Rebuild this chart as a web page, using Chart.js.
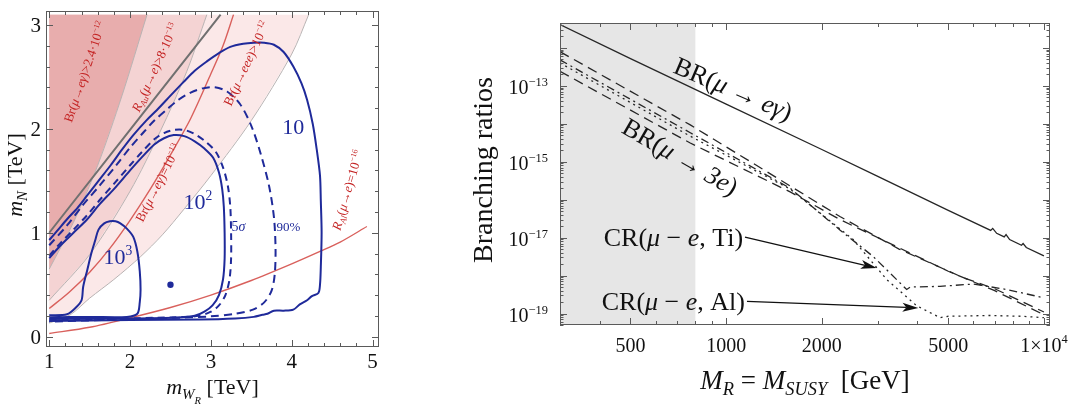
<!DOCTYPE html>
<html>
<head>
<meta charset="utf-8">
<script src="https://cdn.jsdelivr.net/npm/chart.js@4.4.1/dist/chart.umd.min.js"></script>
<style>
  html, body { margin: 0; padding: 0; background: #fff; width: 1084px; height: 407px; overflow: hidden; }
  canvas { position: absolute; top: 0; }
  #left { left: 0; }
  #right { left: 440px; }
</style>
</head>
<body>
<canvas id="left" width="420" height="407"></canvas>
<canvas id="right" width="644" height="407"></canvas>
<script>
// ---------- left panel data: (m_WR, m_N) in TeV ----------
const leftXTicks = [1, 2, 3, 4, 5];
const leftYTicks = [0, 1, 2, 3];

const regionEee = [[1.0,0.13],[1.26,0.21],[1.5,0.37],[1.8,0.55],[2.13,0.77],[2.4,0.98],[2.66,1.22],[3.0,1.55],[3.5,2.08],[4.0,2.72],[4.21,3.1],[1.0,3.1]];
const regionAu = [[1.0,0.35],[1.5,0.79],[2.0,1.4],[2.37,1.97],[2.7,2.55],[2.95,3.1],[1.0,3.1]];
const regionEgamma = [[1.0,0.65],[1.3,1.1],[1.6,1.65],[1.9,2.32],[2.21,3.1],[1.0,3.1]];

const diagLine = [[1.0,1.0],[3.12,3.1]];
const redEgamma = [[1.0,0.27],[1.25,0.43],[1.5,0.62],[1.75,0.85],[2.0,1.12],[2.25,1.42],[2.5,1.75],[2.75,2.1],[3.0,2.53],[3.15,2.8],[3.28,3.1]];
const redAl = [[1.0,0.03],[1.5,0.09],[2.0,0.18],[2.5,0.28],[3.0,0.4],[3.5,0.54],[4.0,0.7],[4.35,0.82],[4.6,0.91],[4.93,1.06]];

const contour10 = [[1.0,0.93],[1.1,1.02],[1.22,1.13],[1.35,1.24],[1.47,1.36],[1.6,1.49],[1.76,1.65],[1.9,1.8],[2.04,1.94],[2.2,2.08],[2.33,2.18],[2.5,2.32],[2.66,2.45],[2.8,2.56],[2.95,2.65],[3.1,2.73],[3.24,2.79],[3.4,2.82],[3.53,2.83],[3.66,2.83],[3.78,2.81],[3.9,2.74],[4.02,2.6],[4.12,2.44],[4.19,2.28],[4.26,2.05],[4.31,1.8],[4.35,1.55],[4.36,1.31],[4.37,1.0],[4.36,0.67],[4.35,0.5],[4.33,0.42],[4.25,0.39],[4.19,0.35],[4.1,0.31],[4.02,0.26],[3.9,0.25],[3.78,0.25],[3.7,0.22],[3.64,0.21],[3.53,0.19],[3.3,0.175],[2.86,0.165],[2.0,0.16],[1.0,0.15]];
const contour90 = [[1.0,0.88],[1.22,1.07],[1.42,1.27],[1.63,1.46],[1.84,1.66],[2.0,1.82],[2.17,1.97],[2.3,2.08],[2.46,2.19],[2.6,2.28],[2.75,2.35],[2.9,2.39],[3.05,2.4],[3.2,2.36],[3.36,2.24],[3.5,2.03],[3.62,1.75],[3.72,1.45],[3.78,1.15],[3.8,0.85],[3.79,0.6],[3.75,0.44],[3.66,0.33],[3.52,0.26],[3.3,0.22],[3.0,0.195],[2.5,0.18],[1.0,0.145]];
const contour100 = [[1.0,0.755],[1.13,0.87],[1.3,1.0],[1.47,1.13],[1.63,1.28],[1.8,1.42],[2.0,1.6],[2.15,1.73],[2.3,1.85],[2.42,1.91],[2.54,1.94],[2.67,1.93],[2.8,1.88],[2.92,1.81],[3.03,1.72],[3.1,1.58],[3.14,1.42],[3.16,1.25],[3.17,1.0],[3.17,0.75],[3.15,0.55],[3.1,0.4],[3.02,0.3],[2.92,0.24],[2.8,0.2],[2.6,0.185],[2.0,0.175],[1.0,0.17]];
const contour5s = [[1.0,0.78],[1.15,0.91],[1.3,1.03],[1.47,1.17],[1.63,1.32],[1.8,1.47],[2.0,1.65],[2.15,1.78],[2.3,1.9],[2.42,1.96],[2.54,1.99],[2.67,1.99],[2.8,1.95],[2.93,1.88],[3.06,1.78],[3.15,1.63],[3.21,1.45],[3.24,1.25],[3.25,1.0],[3.25,0.75],[3.23,0.55],[3.18,0.4],[3.1,0.3],[3.0,0.24],[2.85,0.2],[2.5,0.185],[1.0,0.16]];
const contour1000 = [[1.0,0.205],[1.22,0.215],[1.33,0.28],[1.4,0.35],[1.42,0.48],[1.47,0.64],[1.52,0.8],[1.57,0.93],[1.61,1.03],[1.68,1.09],[1.75,1.11],[1.82,1.11],[1.88,1.09],[1.96,1.04],[2.04,0.96],[2.09,0.82],[2.12,0.63],[2.13,0.45],[2.12,0.33],[2.09,0.22],[1.96,0.19],[1.5,0.19],[1.0,0.185]];
const benchmark = [[2.5,0.5]];

// ---------- right panel data: M_R in GeV vs branching ratio ----------
const rightXTicks = [500, 1000, 2000, 5000, 10000];
const rightYTicks = [1e-13, 1e-15, 1e-17, 1e-19];
const excludedRange = [300, 800];

const brEgamma = [[300,4.1e-12],[500,5.2e-13],[1000,3.3e-14],[2000,2.1e-15],[3000,4.1e-16],[5000,5.2e-17],[6800,1.55e-17],[6900,1.75e-17],[7100,1.3e-17],[7500,1.05e-17],[7600,1.2e-17],[7800,8.9e-18],[8500,6.3e-18],[8600,7.0e-18],[8800,5.5e-18],[10000,3.3e-18]];
const br3eUpper = [[300,7.9e-13],[771,9.3e-15],[1590,2.3e-16],[2280,3.6e-17],[3500,5.0e-18],[5560,8.9e-19],[7000,4.5e-19],[10000,1.1e-19]];
const crTi = [[300,4.8e-13],[771,5.8e-15],[1590,2.0e-16],[2280,1.6e-17],[2900,3.2e-18],[3700,4.3e-19],[3800,5.0e-19],[4710,5.2e-19],[6000,6.0e-19],[7640,4.3e-19],[10000,2.6e-19]];
const crAl = [[300,4.0e-13],[771,4.7e-15],[1590,1.9e-16],[2510,8.9e-18],[3200,7.9e-19],[3980,1.6e-19],[4710,7.8e-20],[5000,8.5e-20],[6760,8.9e-20],[8500,8.5e-20],[10000,7.8e-20]];
const br3eLower = [[300,2.4e-13],[771,3.1e-15],[1590,1.6e-16],[2280,3.0e-17],[5000,1.3e-18],[7000,4.0e-19],[10000,9.3e-20]];

const SERIF = "'Liberation Serif', 'Times New Roman', serif";
const BLUE = '#1f2a9a';
const RED_TXT = '#c42424';

const pts = arr => arr.map(([x, y]) => ({ x, y }));
const sup = t => ({ t, s: 0.62, dy: -0.42 });
const sub = t => ({ t, s: 0.68, dy: 0.22, i: 1 });
const it = t => ({ t, i: 1 });

// text made of runs (italic / sub / sup), centred on x,y unless align says otherwise
function drawRich(ctx, runs, x, y, o) {
  const size = o.size;
  ctx.save();
  ctx.translate(x, y);
  if (o.angle) ctx.rotate(o.angle * Math.PI / 180);
  ctx.fillStyle = o.color || '#111';
  ctx.textAlign = 'left';
  ctx.textBaseline = 'alphabetic';
  const parts = runs.map(r => {
    const s = typeof r === 'string' ? { t: r } : r;
    const font = (s.i ? 'italic ' : '') + (size * (s.s || 1)).toFixed(1) + 'px ' + SERIF;
    ctx.font = font;
    return { t: s.t, font, w: ctx.measureText(s.t).width, dy: (s.dy || 0) * size };
  });
  const total = parts.reduce((a, p) => a + p.w, 0);
  let cx = o.align === 'right' ? -total : o.align === 'left' ? 0 : -total / 2;
  const base = size * 0.33;
  for (const p of parts) {
    ctx.font = p.font;
    ctx.fillText(p.t, cx, base + p.dy);
    cx += p.w;
  }
  ctx.restore();
}

function drawArrow(ctx, x1, y1, x2, y2) {
  const ang = Math.atan2(y2 - y1, x2 - x1);
  const len = 16, hw = 4.5;
  const bx = x2 - len * Math.cos(ang), by = y2 - len * Math.sin(ang);
  ctx.save();
  ctx.strokeStyle = '#111';
  ctx.fillStyle = '#111';
  ctx.lineWidth = 1.2;
  ctx.beginPath();
  ctx.moveTo(x1, y1);
  ctx.lineTo(bx + 4 * Math.cos(ang), by + 4 * Math.sin(ang));
  ctx.stroke();
  ctx.beginPath();
  ctx.moveTo(x2, y2);
  ctx.lineTo(bx - hw * Math.sin(ang), by + hw * Math.cos(ang));
  ctx.lineTo(bx + 4 * Math.cos(ang), by + 4 * Math.sin(ang));
  ctx.lineTo(bx + hw * Math.sin(ang), by - hw * Math.cos(ang));
  ctx.closePath();
  ctx.fill();
  ctx.restore();
}

const baseOptions = {
  responsive: false,
  animation: false,
  events: [],
  plugins: { legend: { display: false }, tooltip: { enabled: false } },
  elements: { point: { radius: 0 } },
};

// ---------------- left panel ----------------
const leftDecor = {
  id: 'leftDecor',
  afterDraw(chart) {
    const { ctx, chartArea: a, scales: { x, y } } = chart;
    ctx.save();
    ctx.strokeStyle = '#5a5a5a';
    ctx.lineWidth = 1;
    ctx.strokeRect(a.left + 0.5, a.top + 0.5, a.width - 1, a.height - 1);
    ctx.beginPath();
    for (let i = 0; i <= 20; i++) {
      const v = 1 + i * 0.2;
      const px = Math.round(x.getPixelForValue(v)) + 0.5;
      const len = i % 5 === 0 ? 7 : 4;
      ctx.moveTo(px, a.bottom); ctx.lineTo(px, a.bottom - len);
      ctx.moveTo(px, a.top); ctx.lineTo(px, a.top + len);
    }
    for (let i = 0; i <= 15; i++) {
      const v = i * 0.2;
      const py = Math.round(y.getPixelForValue(v)) + 0.5;
      const len = i % 5 === 0 ? 7 : 4;
      ctx.moveTo(a.left, py); ctx.lineTo(a.left + len, py);
      ctx.moveTo(a.right, py); ctx.lineTo(a.right - len, py);
    }
    ctx.stroke();
    ctx.restore();

    for (const v of leftXTicks) drawRich(ctx, [String(v)], x.getPixelForValue(v), a.bottom + 14, { size: 21 });
    for (const v of leftYTicks) drawRich(ctx, [String(v)], a.left - 5, y.getPixelForValue(v), { size: 21, align: 'right' });

    drawRich(ctx, [it('m'), { t: 'W', i: 1, s: 0.68, dy: 0.22 }, { t: 'R', i: 1, s: 0.48, dy: 0.42 }, ' [TeV]'],
      (a.left + a.right) / 2, a.bottom + 40, { size: 22 });
    drawRich(ctx, [it('m'), sub('N'), ' [TeV]'], a.left - 31, (a.top + a.bottom) / 2 - 4, { size: 22, angle: -90 });

    const mu = it('μ'), e = it('e');
    const redLabels = [
      { at: [1.44, 2.55], ang: -71, runs: ['Br(', mu, '→', it('eγ'), ')>2.4·10', sup('−12')] },
      { at: [2.31, 2.59], ang: -65.5, runs: [it('R'), sub('Au'), '(', mu, '→', e, ')>8·10', sup('−13')] },
      { at: [3.44, 2.63], ang: -65, runs: ['Br(', mu, '→', it('eee'), ')>10', sup('−12')] },
      { at: [2.35, 1.48], ang: -63, runs: ['Br(', mu, '→', it('eγ'), ')=10', sup('−13')] },
      { at: [4.69, 1.41], ang: -74, runs: [it('R'), sub('Al'), '(', mu, '→', e, ')=10', sup('−16')] },
    ];
    for (const l of redLabels) {
      drawRich(ctx, l.runs, x.getPixelForValue(l.at[0]), y.getPixelForValue(l.at[1]), { size: 13, angle: l.ang, color: RED_TXT });
    }
    const blueLabels = [
      { at: [4.02, 2.02], size: 22, runs: ['10'] },
      { at: [2.84, 1.3], size: 22, runs: ['10', sup('2')] },
      { at: [1.85, 0.77], size: 22, runs: ['10', sup('3')] },
      { at: [3.34, 1.06], size: 14, runs: ['5', it('σ')] },
      { at: [3.96, 1.06], size: 13, runs: ['90%'] },
    ];
    for (const l of blueLabels) {
      drawRich(ctx, l.runs, x.getPixelForValue(l.at[0]), y.getPixelForValue(l.at[1]), { size: l.size, color: BLUE });
    }
  }
};

const region = (data, color) => ({ data: pts(data), showLine: true, borderWidth: 0, fill: 'shape', backgroundColor: color, pointRadius: 0 });
const edge = data => ({ data: pts(data.slice(0, -1)), showLine: true, borderColor: '#b9b3b3', borderWidth: 1, tension: 0.3, pointRadius: 0 });
const curve = (data, color, width, dash) => ({ data: pts(data), showLine: true, borderColor: color, borderWidth: width, borderDash: dash || [], tension: 0.3, pointRadius: 0, fill: false });

new Chart(document.getElementById('left'), {
  type: 'scatter',
  data: {
    datasets: [
      { data: pts(benchmark), pointRadius: 3.2, backgroundColor: BLUE, borderWidth: 0 },
      curve(contour1000, BLUE, 2),
      curve(contour100, BLUE, 2),
      curve(contour5s, BLUE, 2, [7, 5]),
      curve(contour90, BLUE, 2, [8, 5]),
      curve(contour10, BLUE, 2),
      curve(redAl, '#d9605c', 1.4),
      curve(redEgamma, '#d9605c', 1.4),
      curve(diagLine, '#707070', 2),
      edge(regionEgamma),
      edge(regionAu),
      edge(regionEee),
      region(regionEgamma, '#e8adad'),
      region(regionAu, '#f4d3d3'),
      region(regionEee, '#fbe8e8'),
    ]
  },
  options: {
    ...baseOptions,
    layout: { padding: { left: 46, top: 11, right: 41, bottom: 60 } },
    scales: {
      x: { type: 'linear', display: false, min: 0.96, max: 5.08 },
      y: { type: 'linear', display: false, min: -0.1, max: 3.135 },
    },
  },
  plugins: [leftDecor]
});

// ---------------- right panel ----------------
const X_MIN = 300, X_MAX = 10450, Y_MIN = 5e-20, Y_MAX = 4.5e-12;

const rightDecor = {
  id: 'rightDecor',
  afterDraw(chart) {
    const { ctx, chartArea: a, scales: { x, y } } = chart;
    ctx.save();
    ctx.strokeStyle = '#5a5a5a';
    ctx.lineWidth = 1;
    ctx.strokeRect(a.left + 0.5, a.top + 0.5, a.width - 1, a.height - 1);
    ctx.beginPath();
    for (const d of [100, 1000, 10000]) {
      for (let m = 1; m <= 9; m++) {
        const v = m * d;
        if (v < X_MIN || v > X_MAX) continue;
        const px = Math.round(x.getPixelForValue(v)) + 0.5;
        const len = rightXTicks.includes(v) ? 7 : 4;
        ctx.moveTo(px, a.bottom); ctx.lineTo(px, a.bottom - len);
        ctx.moveTo(px, a.top); ctx.lineTo(px, a.top + len);
      }
    }
    for (let p = -20; p <= -12; p++) {
      for (let m = 1; m <= 9; m++) {
        const v = m * Math.pow(10, p);
        if (v < Y_MIN || v > Y_MAX) continue;
        const py = Math.round(y.getPixelForValue(v)) + 0.5;
        const len = m === 1 ? 7 : 3.5;
        ctx.moveTo(a.left, py); ctx.lineTo(a.left + len, py);
        ctx.moveTo(a.right, py); ctx.lineTo(a.right - len, py);
      }
    }
    ctx.stroke();
    ctx.restore();

    for (const v of rightXTicks) {
      const runs = v === 10000 ? ['1×10', sup('4')] : [String(v)];
      drawRich(ctx, runs, x.getPixelForValue(v), a.bottom + 20, { size: 20 });
    }
    for (const v of rightYTicks) {
      const p = Math.round(Math.log10(v));
      drawRich(ctx, ['10', sup('−' + Math.abs(p))], a.left - 12, y.getPixelForValue(v) + 2, { size: 20, align: 'right' });
    }

    drawRich(ctx, ['Branching ratios'], a.left - 77, (a.top + a.bottom) / 2 - 4, { size: 28, angle: -90 });
    drawRich(ctx, [it('M'), sub('R'), ' = ', it('M'), sub('SUSY'), '  [GeV]'], (a.left + a.right) / 2, a.bottom + 55, { size: 27 });

    const mu = it('μ'), e = it('e');
    const P = (gev, br) => [x.getPixelForValue(gev), y.getPixelForValue(br)];
    let q = P(1052, 8.3e-14);
    drawRich(ctx, ['BR(', mu, ' → ', it('eγ'), ')'], q[0], q[1], { size: 26, angle: 23 });
    q = P(717, 1.35e-15);
    drawRich(ctx, ['BR(', mu, ' → ', it('3e'), ')'], q[0], q[1], { size: 26, angle: 30 });
    q = P(1131, 1.0e-17);
    drawRich(ctx, ['CR(', mu, ' − ', e, ', Ti)'], q[0], q[1], { size: 26, align: 'right' });
    q = P(1146, 2.1e-19);
    drawRich(ctx, ['CR(', mu, ' − ', e, ', Al)'], q[0], q[1], { size: 26, align: 'right' });

    const t1 = P(1146, 1.03e-17), h1 = P(2978, 1.58e-18);
    drawArrow(ctx, t1[0], t1[1], h1[0], h1[1]);
    const t2 = P(1163, 2.1e-19), h2 = P(4027, 1.41e-19);
    drawArrow(ctx, t2[0], t2[1], h2[0], h2[1]);
  }
};

const brLine = (data, dash) => ({ data: pts(data), showLine: true, borderColor: '#262626', borderWidth: 1.3, borderDash: dash, pointRadius: 0, fill: false });

new Chart(document.getElementById('right'), {
  type: 'scatter',
  data: {
    datasets: [
      brLine(brEgamma, []),
      brLine(br3eUpper, [10, 6]),
      brLine(crTi, [8, 4, 2, 4]),
      brLine(crAl, [2, 4]),
      brLine(br3eLower, [10, 6]),
      {
        data: pts([[excludedRange[0], Y_MIN], [excludedRange[1], Y_MIN], [excludedRange[1], Y_MAX], [excludedRange[0], Y_MAX]]),
        showLine: true, borderWidth: 0, fill: 'shape', backgroundColor: '#e6e6e6', pointRadius: 0
      },
    ]
  },
  options: {
    ...baseOptions,
    layout: { padding: { left: 120, top: 23, right: 34, bottom: 82 } },
    scales: {
      x: { type: 'logarithmic', display: false, min: X_MIN, max: X_MAX },
      y: { type: 'logarithmic', display: false, min: Y_MIN, max: Y_MAX },
    },
  },
  plugins: [rightDecor]
});
</script>
</body>
</html>
